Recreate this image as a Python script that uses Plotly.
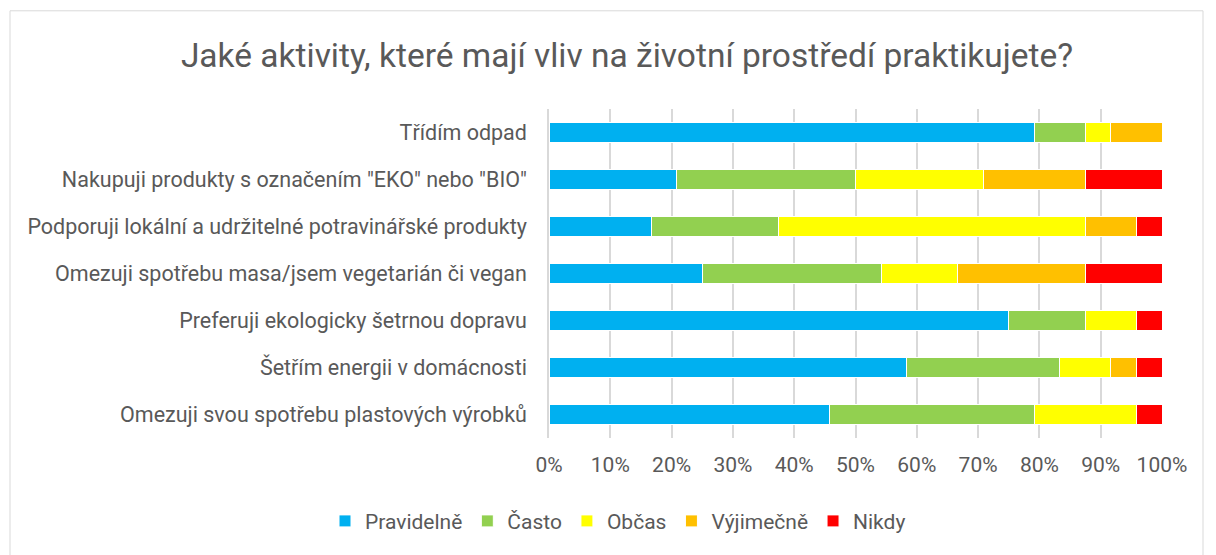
import plotly.graph_objects as go

# answers of 24 respondents per activity
activities = [
    'Třídím odpad',
    'Nakupuji produkty s označením "EKO" nebo "BIO"',
    'Podporuji lokální a udržitelné potravinářské produkty',
    'Omezuji spotřebu masa/jsem vegetarián či vegan',
    'Preferuji ekologicky šetrnou dopravu',
    'Šetřím energii v domácnosti',
    'Omezuji svou spotřebu plastových výrobků',
]
pravidelne = [19, 5, 4, 6, 18, 14, 11]
casto = [2, 7, 5, 7, 3, 6, 8]
obcas = [1, 5, 12, 3, 2, 2, 4]
vyjimecne = [2, 4, 2, 5, 0, 1, 0]
nikdy = [0, 3, 1, 3, 1, 1, 1]

series = [
    ('Pravidelně', pravidelne, '#00B0F0'),
    ('Často', casto, '#92D050'),
    ('Občas', obcas, '#FFFF00'),
    ('Výjimečně', vyjimecne, '#FFC000'),
    ('Nikdy', nikdy, '#FF0000'),
]

text_color = '#595959'
font_family = 'Roboto, Arial, sans-serif'

fig = go.Figure()
for name, values, color in series:
    fig.add_trace(go.Bar(
        y=activities, x=values, name=name, orientation='h',
        marker=dict(color=color, line=dict(color='white', width=1)),
    ))

# page has an 8px body margin, so work in screen pixels minus 8
OFF = 8
W, H = 1216 - OFF, 555 - OFF
L, R, T, B = 549 - OFF, 1162 - OFF, 108.5 - OFF, 438.5 - OFF


def px_x(p):
    return (p - OFF - L) / (R - L)


def px_y(p):
    return (B - (p - OFF)) / (B - T)


fig.update_layout(
    width=W, height=H,
    barmode='stack', barnorm='fraction', bargap=0.58,
    margin=dict(l=L, r=W - R, t=T, b=H - B),
    paper_bgcolor='white', plot_bgcolor='white',
    font=dict(family=font_family, color=text_color, size=21),
    title=dict(
        text='Jaké aktivity, které mají vliv na životní prostředí praktikujete?',
        x=(627 - OFF) / W, xanchor='center', y=1 - (55 - OFF) / H, yanchor='middle',
        font=dict(size=33.5, color=text_color),
    ),
    legend=dict(
        orientation='h', x=px_x(618), xanchor='center', y=px_y(522), yanchor='middle',
        font=dict(size=21), itemwidth=30, traceorder='normal',
    ),
    shapes=[dict(
        type='rect', xref='paper', yref='paper',
        x0=px_x(10), x1=px_x(1203), y0=px_y(620), y1=px_y(10),
        line=dict(color='#D9D9D9', width=1), layer='below',
    )],
)

fig.update_xaxes(
    range=[0, 1], dtick=0.1, tickformat='.0%',
    showgrid=True, gridcolor='#D9D9D9', gridwidth=1.5,
    zeroline=False, showline=False, ticklabelstandoff=12,
    tickfont=dict(size=21, color=text_color),
)
fig.update_yaxes(
    autorange='reversed', showline=True, linecolor='#D9D9D9', linewidth=1.5,
    ticks='', ticklabelstandoff=16, tickfont=dict(size=21.5, color=text_color),
)

fig.write_html('out.html')
